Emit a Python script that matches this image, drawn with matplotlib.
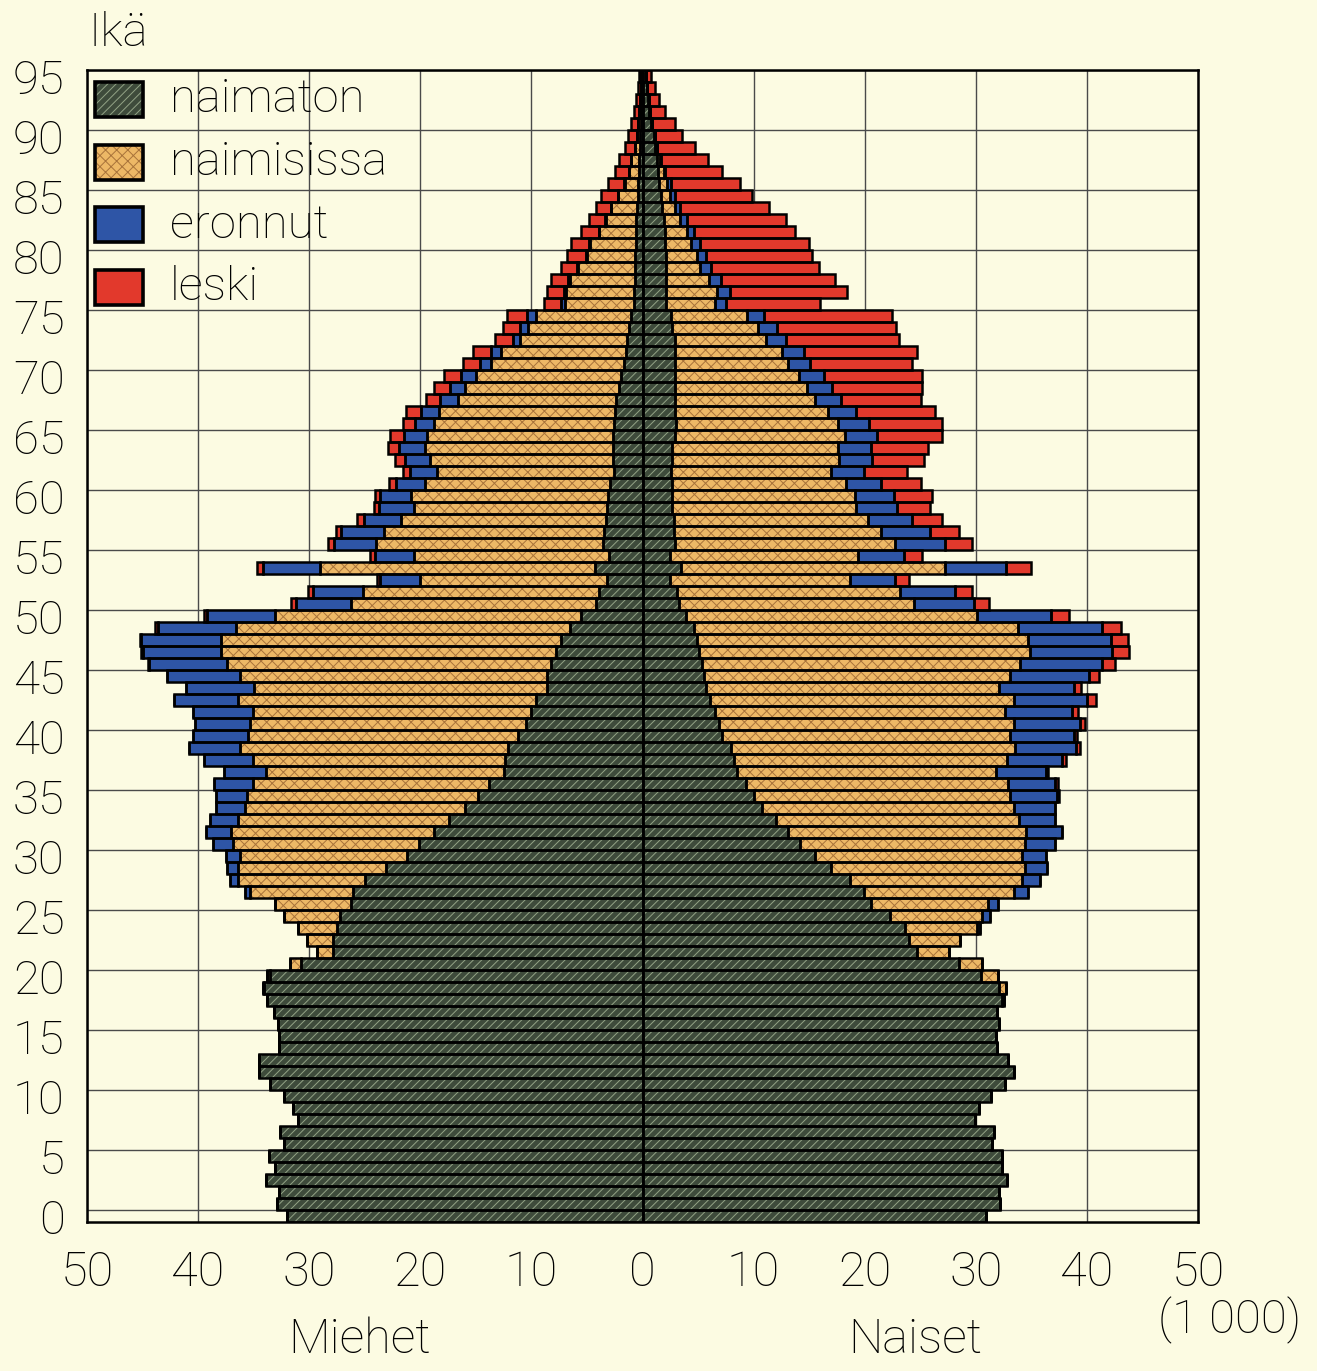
# -*- coding: utf-8 -*-
"""
Population pyramid by marital status (Ikä / Miehet / Naiset), 1 000 persons.
"""
import numpy as np
import matplotlib
matplotlib.use('Agg')
import matplotlib.pyplot as plt
from matplotlib.patches import Rectangle

# =============================   Data (1 000 persons)  =====================
ages = np.arange(0, 96)

men_naimaton = [
    32.0, 32.9, 32.7, 33.9, 33.1, 33.6, 32.3, 32.6, 31.0, 31.5,   # 0-9
    32.3, 33.5, 34.5, 34.5, 32.7, 32.7, 32.8, 33.2, 33.8, 34.1,   # 10-19
    33.5, 30.7, 27.9, 27.9, 27.5, 27.2, 26.2, 26.1, 25.0, 23.1,   # 20-29
    21.2, 20.1, 18.8, 17.4, 16.0, 14.8, 13.8, 12.5, 12.4, 12.1,   # 30-39
    11.2, 10.5, 10.0, 9.6, 8.6, 8.6, 8.2, 7.8, 7.3, 6.5,          # 40-49
    5.5, 4.2, 3.9, 3.2, 4.3, 3.0, 3.6, 3.5, 3.3, 3.2,             # 50-59
    3.1, 2.9, 2.6, 2.7, 2.7, 2.7, 2.6, 2.5, 2.4, 2.1,             # 60-69
    1.9, 1.7, 1.5, 1.4, 1.2, 1.0, 0.75, 0.75, 0.7, 0.7,           # 70-79
    0.65, 0.6, 0.6, 0.55, 0.5, 0.45, 0.4, 0.35, 0.3, 0.25,        # 80-89
    0.2, 0.15, 0.1, 0.1, 0.05, 0.05]                              # 90-95
men_naimisissa = [
    0, 0, 0, 0, 0, 0, 0, 0, 0, 0,
    0, 0, 0, 0, 0, 0, 0, 0, 0, 0.1,
    0.3, 1.0, 1.4, 2.3, 3.5, 5.1, 6.9, 9.2, 11.4, 13.3,
    15.0, 16.8, 18.2, 19.0, 19.8, 20.8, 21.3, 21.4, 22.7, 24.1,
    24.3, 24.8, 25.1, 26.8, 26.4, 27.6, 29.2, 30.1, 30.6, 30.1,
    27.6, 22.0, 21.3, 16.8, 24.7, 17.6, 20.4, 19.8, 18.4, 17.4,
    17.7, 16.7, 15.9, 16.4, 16.9, 16.7, 16.2, 15.8, 14.2, 13.9,
    13.1, 11.9, 11.2, 9.6, 9.1, 8.6, 6.25, 6.15, 5.8, 5.1,
    4.35, 4.1, 3.3, 2.75, 2.3, 1.75, 1.2, 0.85, 0.7, 0.45,
    0.3, 0.25, 0.2, 0.1, 0.1, 0.05]
men_eronnut = [
    0, 0, 0, 0, 0, 0, 0, 0, 0, 0,
    0, 0, 0, 0, 0, 0, 0, 0, 0, 0,
    0, 0, 0, 0, 0, 0, 0, 0.5, 0.75, 1.0,
    1.3, 1.8, 2.25, 2.5, 2.6, 2.8, 3.5, 3.75, 4.35, 4.6,
    5.0, 5.0, 5.4, 5.8, 6.1, 6.6, 7.0, 7.1, 7.2, 7.0,
    6.1, 5.0, 4.5, 3.6, 5.2, 3.5, 3.8, 3.8, 3.4, 3.1,
    2.8, 2.6, 2.4, 2.3, 2.3, 2.1, 1.7, 1.6, 1.6, 1.3,
    1.3, 1.0, 0.9, 0.7, 0.7, 0.8, 0.3, 0.2, 0.2, 0.1,
    0.1, 0.1, 0.05, 0.05, 0.05, 0.05, 0.03, 0.02, 0.02, 0.01,
    0.01, 0, 0, 0, 0, 0]
men_leski = [
    0, 0, 0, 0, 0, 0, 0, 0, 0, 0,
    0, 0, 0, 0, 0, 0, 0, 0, 0, 0,
    0, 0, 0, 0, 0, 0, 0, 0, 0, 0,
    0, 0, 0, 0, 0, 0, 0, 0, 0, 0,
    0, 0, 0, 0, 0, 0, 0.1, 0.1, 0.15, 0.3,
    0.3, 0.4, 0.4, 0.3, 0.5, 0.4, 0.5, 0.5, 0.6, 0.5,
    0.5, 0.6, 0.7, 0.9, 1.0, 1.2, 1.1, 1.4, 1.3, 1.5,
    1.6, 1.6, 1.7, 1.6, 1.6, 1.8, 1.6, 1.5, 1.5, 1.4,
    1.7, 1.6, 1.55, 1.45, 1.35, 1.45, 1.47, 1.28, 1.08, 0.89,
    0.79, 0.6, 0.5, 0.4, 0.25, 0.2]

women_naimaton = [
    30.9, 32.2, 32.1, 32.8, 32.4, 32.4, 31.5, 31.6, 29.9, 30.3,   # 0-9
    31.4, 32.6, 33.4, 32.9, 31.9, 31.8, 32.1, 31.9, 32.4, 32.1,   # 10-19
    30.5, 28.5, 24.7, 24.0, 23.6, 22.3, 20.6, 19.9, 18.7, 17.0,   # 20-29
    15.5, 14.2, 13.1, 12.0, 10.8, 10.0, 9.3, 8.5, 8.2, 8.0,       # 30-39
    7.2, 6.9, 6.5, 6.1, 5.7, 5.5, 5.4, 5.1, 4.9, 4.6,             # 40-49
    3.9, 3.3, 3.1, 2.5, 3.5, 2.5, 2.9, 2.8, 2.8, 2.7,             # 50-59
    2.7, 2.7, 2.6, 2.7, 2.7, 2.9, 3.0, 2.9, 2.9, 2.9,             # 60-69
    2.9, 2.9, 2.9, 2.9, 2.7, 2.6, 2.1, 2.1, 2.1, 2.1,             # 70-79
    2.1, 2.0, 2.0, 1.9, 1.8, 1.7, 1.5, 1.4, 1.3, 1.1,             # 80-89
    1.0, 0.8, 0.6, 0.5, 0.4, 0.3]                                 # 90-95
women_naimisissa = [
    0, 0, 0, 0, 0, 0, 0, 0, 0, 0,
    0, 0, 0, 0, 0, 0, 0, 0, 0.1, 0.6,
    1.5, 2.1, 2.9, 4.6, 6.5, 8.3, 10.5, 13.5, 15.5, 17.4,
    18.7, 20.2, 21.4, 21.9, 22.6, 23.1, 23.6, 23.3, 24.6, 25.5,
    25.9, 26.5, 26.1, 27.3, 26.4, 27.6, 28.6, 29.8, 29.8, 29.2,
    26.2, 21.1, 20.1, 16.2, 23.7, 16.9, 19.8, 18.7, 17.5, 16.5,
    16.4, 15.6, 14.4, 15.0, 14.9, 15.3, 14.6, 13.8, 12.6, 11.9,
    11.2, 10.2, 9.7, 8.2, 7.7, 6.85, 4.4, 4.6, 3.9, 3.1,
    2.8, 2.4, 2.0, 1.5, 1.1, 0.75, 0.7, 0.5, 0.3, 0.2,
    0.1, 0.1, 0.1, 0.1, 0.05, 0.05]
women_eronnut = [
    0, 0, 0, 0, 0, 0, 0, 0, 0, 0,
    0, 0, 0, 0, 0, 0, 0, 0, 0, 0,
    0, 0, 0, 0, 0.3, 0.7, 0.9, 1.3, 1.6, 2.0,
    2.1, 2.7, 3.3, 3.2, 3.7, 4.2, 4.2, 4.5, 5.0, 5.5,
    5.7, 6.0, 6.1, 6.6, 6.7, 7.1, 7.4, 7.4, 7.5, 7.6,
    6.7, 5.4, 4.9, 4.0, 5.5, 4.1, 4.5, 4.4, 4.0, 3.7,
    3.5, 3.2, 2.9, 3.0, 3.0, 2.9, 2.8, 2.5, 2.4, 2.3,
    2.2, 2.0, 1.9, 1.8, 1.7, 1.45, 1.0, 1.2, 1.1, 1.0,
    0.8, 0.8, 0.6, 0.6, 0.5, 0.45, 0.4, 0.1, 0.1, 0.05,
    0.05, 0, 0, 0, 0, 0]
women_leski = [
    0, 0, 0, 0, 0, 0, 0, 0, 0, 0,
    0, 0, 0, 0, 0, 0, 0, 0, 0, 0,
    0, 0, 0, 0, 0, 0, 0, 0, 0, 0,
    0, 0, 0, 0, 0, 0.2, 0.3, 0.2, 0.3, 0.4,
    0.3, 0.4, 0.5, 0.8, 0.7, 0.9, 1.1, 1.5, 1.5, 1.7,
    1.6, 1.4, 1.6, 1.3, 2.3, 1.7, 2.5, 2.6, 2.7, 3.0,
    3.5, 3.6, 3.9, 4.6, 5.1, 5.9, 6.6, 7.1, 7.2, 8.1,
    8.9, 9.2, 10.2, 10.2, 10.7, 11.6, 8.5, 10.5, 10.2, 9.7,
    9.6, 9.8, 9.1, 8.9, 8.0, 7.0, 6.2, 5.2, 4.2, 3.35,
    2.45, 2.0, 1.3, 0.9, 0.65, 0.45]

labels = ['naimaton', 'naimisissa', 'eronnut', 'leski']
x_ticks = [-50, -40, -30, -20, -10, 0, 10, 20, 30, 40, 50]
age_ticks = list(range(0, 96, 5))

# =============================   Style settings   ==========================
bg = '#FCFBE2'
# (face colour, hatch, hatch colour)
styles = [
    ('#3E4B3B', '////', '#93A386'),
    ('#EDB866', 'xxx', '#A8733A'),
    ('#2E55A6', None, '#2E55A6'),
    ('#E2392C', None, '#E2392C'),
]
plt.rcParams['font.family'] = ['Roboto', 'DejaVu Sans']
plt.rcParams['hatch.linewidth'] = 0.7
edge_lw = 1.8


def draw_side(ax, series, sign):
    """Stack the four marital-status segments outward from the centre."""
    left = np.zeros(len(ages))
    for vals, (fc, hatch, hc) in zip(series, styles):
        vals = np.asarray(vals, dtype=float)
        ax.barh(ages + 0.5, sign * vals, height=1.0, left=sign * left,
                facecolor=fc, edgecolor=hc, hatch=hatch, linewidth=0,
                zorder=2)
        ax.barh(ages + 0.5, sign * vals, height=1.0, left=sign * left,
                fill=False, edgecolor='black', linewidth=edge_lw, zorder=3)
        left += vals


# =============================   Main program   ============================
fig = plt.figure(figsize=(13.17, 13.71), dpi=100, facecolor=bg)
ax = fig.add_axes([87 / 1317, 1 - 1222 / 1371, 1111 / 1317, 1152 / 1371],
                  facecolor=bg)

draw_side(ax, [men_naimaton, men_naimisissa, men_eronnut, men_leski], -1)
draw_side(ax, [women_naimaton, women_naimisissa, women_eronnut, women_leski], 1)
ax.axvline(0, color='black', linewidth=1.2, zorder=4)

ax.set_xlim(-50, 50)
ax.set_ylim(0, 96)

# -- ticks: labels at bar centres, grid at bar tops
ax.set_xticks(x_ticks)
ax.set_xticklabels([str(abs(v)) for v in x_ticks])
ax.set_yticks([a + 0.5 for a in age_ticks])
ax.set_yticklabels([str(a) for a in age_ticks])
ax.set_yticks([a + 1 for a in age_ticks], minor=True)
ax.tick_params(axis='both', which='both', length=0)
ax.tick_params(axis='x', labelsize=35, pad=20)
ax.tick_params(axis='y', labelsize=34, pad=16)
for t in ax.get_xticklabels() + ax.get_yticklabels():
    t.set_fontweight('light')

ax.grid(True, axis='x', which='major', color='#4a4a4a', linewidth=1.0, zorder=0)
ax.grid(True, axis='y', which='minor', color='#4a4a4a', linewidth=1.0, zorder=0)
ax.set_axisbelow(True)
for sp in ax.spines.values():
    sp.set_linewidth(1.8)
    sp.set_color('black')
    sp.set_zorder(5)

# -- legend (drawn over the grid, without a frame)
row = 62.5 / 1152
for i, (lab, (fc, hatch, hc)) in enumerate(zip(labels, styles)):
    y_top = 1 - (12 / 1152) - i * row
    ax.add_patch(Rectangle((8 / 1111, y_top - 35 / 1152), 48 / 1111, 35 / 1152,
                           transform=ax.transAxes, facecolor=fc, edgecolor=hc,
                           hatch=hatch, linewidth=0, zorder=6))
    ax.add_patch(Rectangle((8 / 1111, y_top - 35 / 1152), 48 / 1111, 35 / 1152,
                           transform=ax.transAxes, fill=False,
                           edgecolor='black', linewidth=2.6, zorder=7))
    ax.text(83 / 1111, y_top - 17.5 / 1152, lab, transform=ax.transAxes,
            ha='left', va='center', fontsize=34, fontweight='light', zorder=7)

# -- texts round the axes
fig.text(88 / 1317, 1 - 33 / 1371, 'Ikä', ha='left', va='center',
         fontsize=34, fontweight='light')
fig.text(360 / 1317, 1 - 1340 / 1371, 'Miehet', ha='center', va='center',
         fontsize=35, fontweight='light')
fig.text(915 / 1317, 1 - 1340 / 1371, 'Naiset', ha='center', va='center',
         fontsize=35, fontweight='light')
fig.text(1230 / 1317, 1 - 1320 / 1371, '(1 000)', ha='center', va='center',
         fontsize=34, fontweight='light')

plt.savefig('out.png', dpi=100, facecolor=bg)
plt.close(fig)
